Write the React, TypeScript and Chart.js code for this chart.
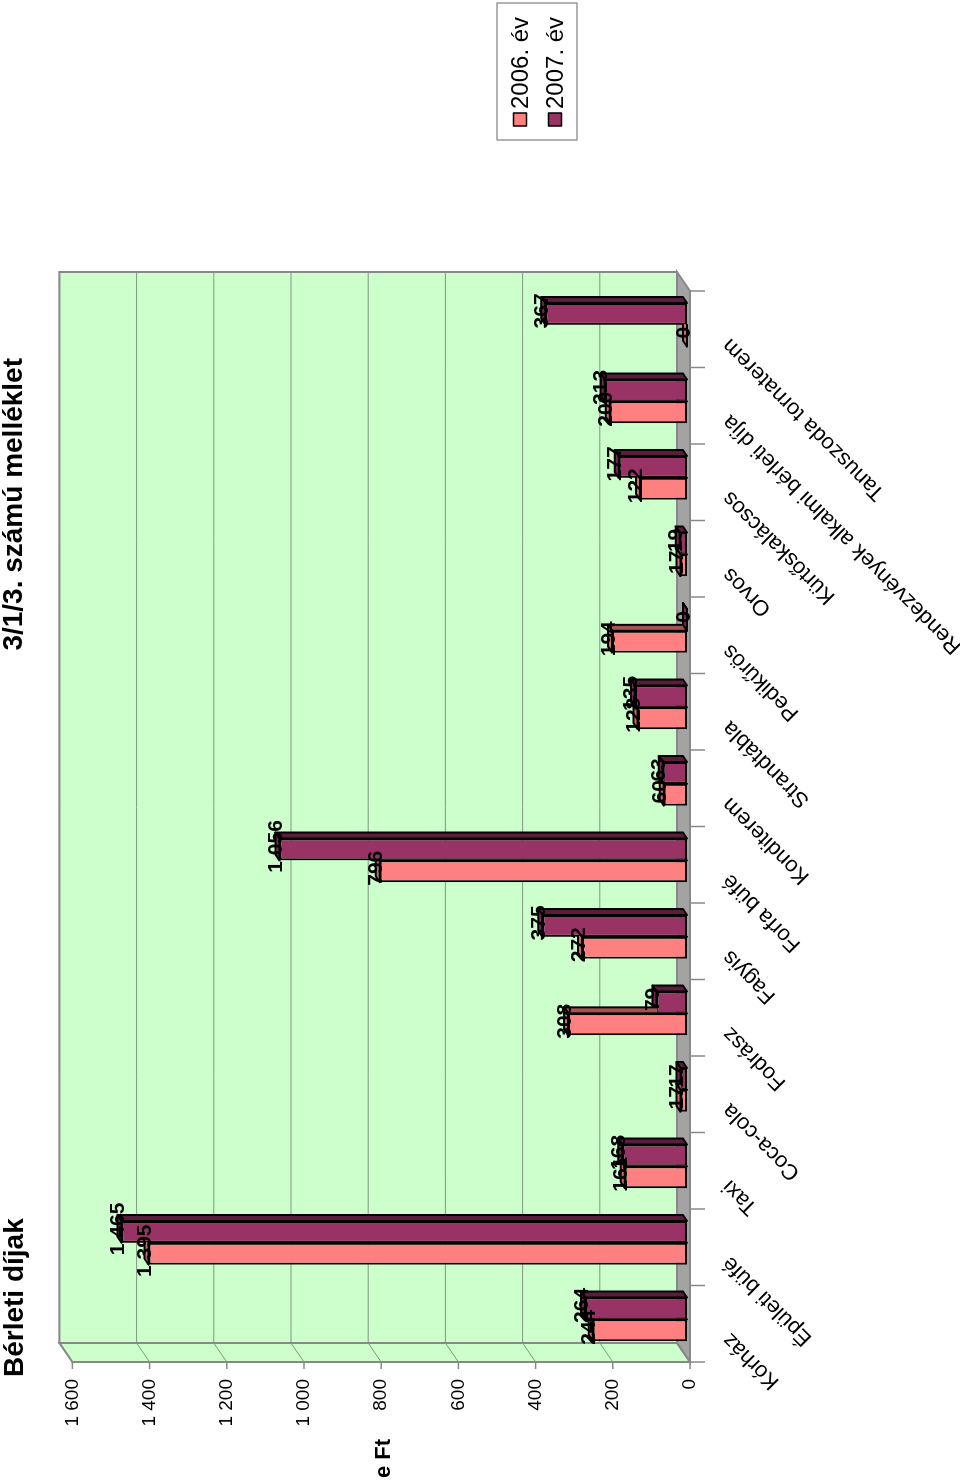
import React, { useEffect, useRef } from 'react';
import { Chart, registerables } from 'chart.js';
Chart.register(...registerables);

const categories = [
  'Kórház', 'Épületi büfé', 'Taxi', 'Coca-cola', 'Fodrász', 'Fagyis', 'Forfa büfé',
  'Konditerem', 'Strandtábla', 'Pedikűrös', 'Orvos', 'Kürtőskalácsos',
  'Rendezvények alkalmi bérleti díja', 'Tanuszoda tornaterem',
];
const values2006 = [244, 1395, 161, 17, 308, 272, 796, 60, 128, 194, 17, 122, 200, 0];
const values2007 = [264, 1465, 168, 17, 79, 375, 1056, 63, 135, 0, 19, 177, 213, 367];
const seriesNames = ['2006. év', '2007. év'];
const axisMin = 0;
const axisMax = 1600;
const axisStep = 200;
const titleText = 'Bérleti díjak';
const subtitleText = '3/1/3. számú melléklet';
const unitText = 'e Ft';

const FONT = '"Liberation Sans", Arial, sans-serif';
const W = 1482;
const H = 960;

const frontColors = ['#FF8080', '#993366'];
const sideColors = ['#A55252', '#5A1D3B'];
const endColors = ['#D06A6A', '#7A2850'];

// 3D offsets (unrotated frame) relative to the bar front plane
const FRONT = { dx: -4.4, dy: 3 };
const BACK = { dx: 14.6, dy: -10 };
const DEPTH = { dx: 6, dy: -4 };

const fmt = (v: number) => String(v).replace(/\B(?=(\d{3})+(?!\d))/g, ' ');

const wallsPlugin = {
  id: 'walls3d',
  beforeDatasetsDraw(chart: any) {
    const { ctx, chartArea: ca, scales } = chart;
    const y = scales.y;
    const x = scales.x;
    const y0 = y.getPixelForValue(axisMin);
    const yM = y.getPixelForValue(axisMax);
    const fl = ca.left + FRONT.dx, fr = ca.right + FRONT.dx;
    const fy0 = y0 + FRONT.dy, fyM = yM + FRONT.dy;
    const bl = ca.left + BACK.dx, br = ca.right + BACK.dx;
    const by0 = y0 + BACK.dy, byM = yM + BACK.dy;
    ctx.save();
    ctx.fillStyle = '#CCFFCC';
    ctx.fillRect(bl, byM, br - bl, by0 - byM);
    ctx.beginPath();
    ctx.moveTo(fl, fyM); ctx.lineTo(bl, byM); ctx.lineTo(bl, by0); ctx.lineTo(fl, fy0); ctx.closePath();
    ctx.fill();
    ctx.fillStyle = '#A3A3A3';
    ctx.beginPath();
    ctx.moveTo(fl, fy0); ctx.lineTo(fr, fy0); ctx.lineTo(br, by0); ctx.lineTo(bl, by0); ctx.closePath();
    ctx.fill();
    ctx.strokeStyle = '#7E9A7E';
    ctx.lineWidth = 1;
    for (let v = axisMin + axisStep; v <= axisMax; v += axisStep) {
      const p = y.getPixelForValue(v);
      ctx.beginPath();
      ctx.moveTo(fl, p + FRONT.dy); ctx.lineTo(bl, p + BACK.dy); ctx.lineTo(br, p + BACK.dy);
      ctx.stroke();
    }
    ctx.strokeStyle = '#888888';
    ctx.lineWidth = 2;
    ctx.strokeRect(bl, byM, br - bl, by0 - byM);
    ctx.beginPath();
    ctx.moveTo(fl, fyM); ctx.lineTo(bl, byM); ctx.lineTo(bl, by0); ctx.lineTo(fl, fy0); ctx.closePath();
    ctx.stroke();
    ctx.beginPath();
    ctx.moveTo(fl, fy0); ctx.lineTo(fr, fy0); ctx.lineTo(br, by0); ctx.lineTo(bl, by0); ctx.closePath();
    ctx.stroke();
    ctx.lineWidth = 1.5;
    for (let v = axisMin; v <= axisMax; v += axisStep) {
      const p = y.getPixelForValue(v) + FRONT.dy;
      ctx.beginPath(); ctx.moveTo(fl - 7, p); ctx.lineTo(fl, p); ctx.stroke();
    }
    const n = categories.length;
    const cw = (ca.right - ca.left) / n;
    for (let i = 0; i <= n; i++) {
      const px = (i < n ? x.getPixelForValue(i) - cw / 2 : x.getPixelForValue(n - 1) + cw / 2) + FRONT.dx;
      ctx.beginPath(); ctx.moveTo(px, fy0); ctx.lineTo(px, fy0 + 15); ctx.stroke();
    }
    ctx.restore();
  },
  afterDatasetDraw(chart: any, args: any) {
    const { ctx } = chart;
    const di = args.index;
    const meta = args.meta;
    const otherMeta = di === 0 ? chart.getDatasetMeta(1) : null;
    ctx.strokeStyle = '#000';
    ctx.lineWidth = 2;
    ctx.lineJoin = 'round';
    meta.data.forEach((el: any, i: number) => {
      const { x, y, base, width } = el.getProps(['x', 'y', 'base', 'width'], true);
      const l = x - width / 2, r = x + width / 2;
      const top = Math.min(y, base);
      ctx.save();
      if (otherMeta && otherMeta.data[i]) {
        const o = otherMeta.data[i].getProps(['x', 'y', 'base', 'width'], true);
        const ot = Math.min(o.y, o.base);
        const ob = Math.max(o.y, o.base);
        ctx.beginPath();
        ctx.rect(0, 0, W, H);
        ctx.rect(o.x - o.width / 2 + 1, ot + 1, o.width, ob - ot);
        ctx.clip('evenodd');
      }
      ctx.fillStyle = sideColors[di];
      ctx.beginPath();
      ctx.moveTo(r, top); ctx.lineTo(r + DEPTH.dx, top + DEPTH.dy);
      ctx.lineTo(r + DEPTH.dx, base + DEPTH.dy); ctx.lineTo(r, base); ctx.closePath();
      ctx.fill(); ctx.stroke();
      ctx.fillStyle = endColors[di];
      ctx.beginPath();
      ctx.moveTo(l, top); ctx.lineTo(l + DEPTH.dx, top + DEPTH.dy);
      ctx.lineTo(r + DEPTH.dx, top + DEPTH.dy); ctx.lineTo(r, top); ctx.closePath();
      ctx.fill(); ctx.stroke();
      ctx.restore();
    });
  },
  afterDatasetsDraw(chart: any) {
    const { ctx } = chart;
    ctx.save();
    ctx.fillStyle = '#000';
    ctx.font = `bold 21px ${FONT}`;
    ctx.textAlign = 'center';
    ctx.textBaseline = 'alphabetic';
    chart.data.datasets.forEach((ds: any, di: number) => {
      const meta = chart.getDatasetMeta(di);
      meta.data.forEach((el: any, i: number) => {
        const { x, y } = el.getProps(['x', 'y'], true);
        ctx.fillText(fmt(ds.data[i]), x + DEPTH.dx / 2, y + 2.5);
      });
    });
    ctx.restore();
  },
  afterDraw(chart: any) {
    const { ctx } = chart;
    ctx.save();
    ctx.fillStyle = '#000';
    ctx.textBaseline = 'alphabetic';
    ctx.font = `bold 28px ${FONT}`;
    ctx.textAlign = 'left';
    ctx.fillText(titleText, 105, 23);
    ctx.textAlign = 'right';
    ctx.fillText(subtitleText, 1124, 22);
    ctx.textAlign = 'left';
    ctx.font = `bold 22px ${FONT}`;
    ctx.fillText(unitText, 4, 390);
    const lx = 1342, ly = 497, lw = 137, lh = 80;
    ctx.fillStyle = '#fff';
    ctx.fillRect(lx, ly, lw, lh);
    ctx.strokeStyle = '#999';
    ctx.lineWidth = 1.5;
    ctx.strokeRect(lx, ly, lw, lh);
    ctx.font = `24px ${FONT}`;
    ctx.textBaseline = 'middle';
    seriesNames.forEach((name, i) => {
      const cy = 520 + i * 35;
      ctx.fillStyle = frontColors[i];
      ctx.fillRect(1356, cy - 6.5, 13, 13);
      ctx.strokeStyle = '#000';
      ctx.lineWidth = 1.5;
      ctx.strokeRect(1356, cy - 6.5, 13, 13);
      ctx.fillStyle = '#000';
      ctx.fillText(name, 1373, cy + 1);
    });
    ctx.restore();
  },
};

export default function App() {
  const ref = useRef<HTMLCanvasElement>(null);
  useEffect(() => {
    document.body.style.overflow = 'hidden';
    Chart.defaults.font.family = FONT;
    const chart = new Chart(ref.current as HTMLCanvasElement, {
      type: 'bar',
      data: {
        labels: categories,
        datasets: [
          { label: seriesNames[0], data: values2006, backgroundColor: frontColors[0], borderColor: '#000', borderWidth: 2, borderSkipped: false },
          { label: seriesNames[1], data: values2007, backgroundColor: frontColors[1], borderColor: '#000', borderWidth: 2, borderSkipped: false },
        ],
      },
      options: {
        responsive: false,
        animation: false,
        devicePixelRatio: 1,
        layout: { padding: { left: 0, top: 69.4, right: 286.6, bottom: 0 } },
        datasets: { bar: { categoryPercentage: 0.571, barPercentage: 1 } },
        plugins: { legend: { display: false }, tooltip: { enabled: false }, title: { display: false } },
        scales: {
          x: {
            type: 'category',
            offset: true,
            grid: { display: false, drawTicks: false },
            border: { display: false },
            ticks: {
              autoSkip: false, minRotation: 45, maxRotation: 45, padding: 30, labelOffset: -17,
              color: '#000', font: { family: FONT, size: 22 },
            },
            afterFit: (s: any) => { s.height = 273; },
          },
          y: {
            min: axisMin, max: axisMax,
            grid: { display: false, drawTicks: false },
            border: { display: false },
            ticks: {
              stepSize: axisStep, padding: 21.4, labelOffset: 3, color: '#000',
              font: { family: FONT, size: 19 },
              callback: (v: any) => fmt(Number(v)),
            },
            afterFit: (s: any) => { s.width = 124.4; },
          },
        },
      },
      plugins: [wallsPlugin],
    } as any);
    return () => chart.destroy();
  }, []);
  return (
    <div style={{ position: 'absolute', left: 0, top: 0, width: W, height: H, transformOrigin: '0 0', transform: 'translate(0px, 1482px) rotate(-90deg)', background: '#fff' }}>
      <canvas ref={ref} width={W} height={H} style={{ display: 'block', width: W, height: H }} />
    </div>
  );
}
